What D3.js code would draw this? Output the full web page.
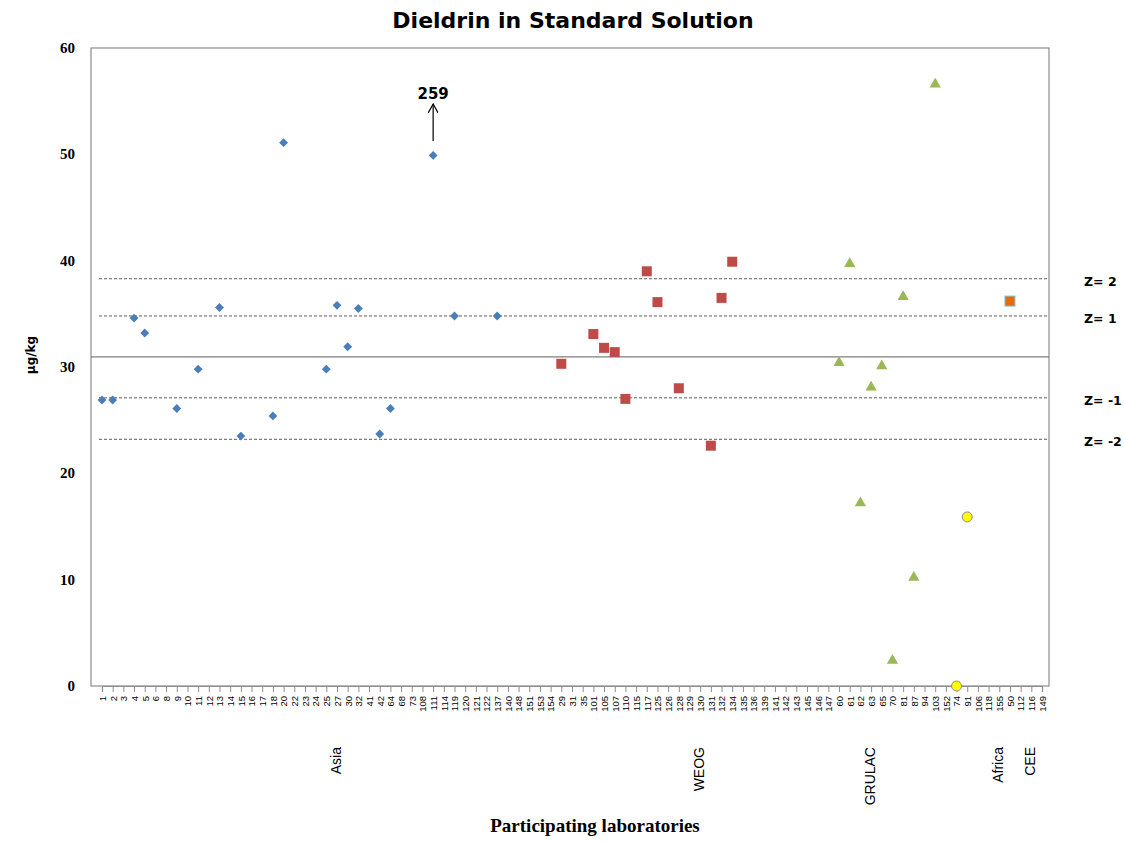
<!DOCTYPE html>
<html>
<head>
<meta charset="utf-8">
<script src="https://cdn.jsdelivr.net/npm/d3@7"></script>
<style>
  body { margin: 0; background: #fff; }
  svg { display: block; }
</style>
</head>
<body>
<svg id="chart" width="1124" height="841"></svg>
<script>
// lab codes along the x axis, grouped by region
const asiaLabs = ["1","2","3","4","5","6","8","9","10","11","12","13","14","15","16","17","18","20","22","23","24","25","27","30","32","41","42","64","68","73","108","111","114","119","120","121","122","137","140","148","151","153","154"];
const weogLabs = ["29","31","35","101","105","107","110","115","117","125","126","128","129","130","131","132","134","135","136","139","141","142","143","145","146","147"];
const grulacLabs = ["60","61","62","63","65","70","81","87","94","103","152"];
const africaLabs = ["74","91","106","118","155","50"];
const ceeLabs = ["112","116","149"];

const regions = ["Asia", "WEOG", "GRULAC", "Africa", "CEE"];

// reported results (µg/kg), [lab, value]
const asiaValues = [["1",26.9],["2",26.9],["4",34.6],["5",33.2],["9",26.1],["11",29.8],["13",35.6],["15",23.5],["18",25.4],["20",51.1],["25",29.8],["27",35.8],["30",31.9],["32",35.5],["42",23.7],["64",26.1],["111",49.9],["119",34.8],["137",34.8]];
const weogValues = [["29",30.3],["101",33.1],["105",31.8],["107",31.4],["110",27.0],["117",39.0],["125",36.1],["128",28.0],["131",22.6],["132",36.5],["134",39.9]];
const grulacValues = [["60",30.4],["61",39.7],["62",17.2],["63",28.1],["65",30.1],["70",2.4],["81",36.6],["87",10.2],["103",56.6]];
const africaValues = [["74",0],["91",15.9]];
const africaOther = [["50",36.2]];

// assigned value and z-score limits
const assigned = 30.95;
const zLines = [["Z= 2",38.3],["Z= 1",34.8],["Z= -1",27.1],["Z= -2",23.2]];
const yTicks = [0,10,20,30,40,50,60];

const svg = d3.select("#chart");
const plotL = 91, plotR = 1049, plotT = 48, plotB = 686;

const allLabs = [].concat(asiaLabs, weogLabs, grulacLabs, africaLabs, ceeLabs);

const x = d3.scalePoint().domain(allLabs).range([102, 1042]);
const y = d3.scaleLinear().domain([0, 60]).range([plotB, plotT]);

// title
svg.append("text")
  .attr("x", 573).attr("y", 28)
  .attr("text-anchor", "middle")
  .style("font-family", "DejaVu Sans")
  .style("font-weight", "bold")
  .style("font-size", "22px")
  .text("Dieldrin in Standard Solution");

// frame
svg.append("rect")
  .attr("x", plotL).attr("y", plotT)
  .attr("width", plotR - plotL).attr("height", plotB - plotT)
  .attr("fill", "none")
  .attr("stroke", "#8c8c8c")
  .attr("stroke-width", 1.2);

// y tick labels
svg.append("g").selectAll("text")
  .data(yTicks)
  .enter().append("text")
  .attr("x", 75).attr("y", d => y(d) + 5)
  .attr("text-anchor", "end")
  .style("font-family", "Liberation Serif")
  .style("font-weight", "bold")
  .style("font-size", "15px")
  .text(d => d);

// y axis title
svg.append("text")
  .attr("transform", "translate(35,355) rotate(-90)")
  .attr("text-anchor", "middle")
  .style("font-family", "DejaVu Sans")
  .style("font-weight", "bold")
  .style("font-size", "12px")
  .text("µg/kg");

// x axis ticks and labels
const xAxis = d3.axisBottom(x).tickSize(6).tickPadding(3);
const gx = svg.append("g")
  .attr("transform", `translate(0,${plotB})`)
  .call(xAxis);
gx.select(".domain").attr("stroke", "#8c8c8c").attr("stroke-width", 1.2);
gx.selectAll(".tick line").attr("stroke", "#8c8c8c");
gx.selectAll(".tick text")
  .attr("transform", "rotate(-90)")
  .attr("x", -10).attr("y", 0).attr("dy", "0.35em")
  .attr("text-anchor", "end")
  .style("font-family", "Liberation Sans")
  .style("font-size", "9.5px")
  .attr("fill", "#000");

// region names
const regionPos = [["Asia","27"],["WEOG","130"],["GRULAC","63"],["Africa","155"],["CEE","116"]];
svg.append("g").selectAll("text")
  .data(regionPos)
  .enter().append("text")
  .attr("transform", d => `translate(${x(d[1]) + 4},747) rotate(-90)`)
  .attr("text-anchor", "end")
  .style("font-family", "Liberation Sans")
  .style("font-size", "14px")
  .text(d => d[0]);

// x axis title
svg.append("text")
  .attr("x", 595).attr("y", 832)
  .attr("text-anchor", "middle")
  .style("font-family", "Liberation Serif")
  .style("font-weight", "bold")
  .style("font-size", "19px")
  .text("Participating laboratories");

// assigned value and z lines
svg.append("line")
  .attr("x1", plotL).attr("x2", plotR)
  .attr("y1", y(assigned)).attr("y2", y(assigned))
  .attr("stroke", "#7f7f7f").attr("stroke-width", 1.3);

svg.append("g").selectAll("line")
  .data(zLines)
  .enter().append("line")
  .attr("x1", plotL + 8).attr("x2", plotR)
  .attr("y1", d => y(d[1])).attr("y2", d => y(d[1]))
  .attr("stroke", "#333")
  .attr("stroke-width", 0.8)
  .attr("stroke-dasharray", "3,2");

svg.append("g").selectAll("text")
  .data(zLines)
  .enter().append("text")
  .attr("x", 1084).attr("y", d => y(d[1]) + 7)
  .style("font-family", "DejaVu Sans")
  .style("font-weight", "bold")
  .style("font-size", "12.5px")
  .text(d => d[0]);

// markers
const pts = svg.append("g");

pts.selectAll(".asia")
  .data(asiaValues)
  .enter().append("path")
  .attr("d", d3.symbol(d3.symbolDiamond2, 50))
  .attr("transform", d => `translate(${x(d[0])},${y(d[1])})`)
  .attr("fill", "#4a7ebb");

pts.selectAll(".weog")
  .data(weogValues)
  .enter().append("rect")
  .attr("x", d => x(d[0]) - 5).attr("y", d => y(d[1]) - 5)
  .attr("width", 10).attr("height", 10)
  .attr("fill", "#be4b48");

pts.selectAll(".grulac")
  .data(grulacValues)
  .enter().append("path")
  .attr("d", d3.symbol(d3.symbolTriangle, 55))
  .attr("transform", d => `translate(${x(d[0])},${y(d[1])})`)
  .attr("fill", "#98b954");

pts.selectAll(".africa")
  .data(africaValues)
  .enter().append("circle")
  .attr("cx", d => x(d[0])).attr("cy", d => y(d[1]))
  .attr("r", 5)
  .attr("fill", "#ffff00")
  .attr("stroke", "#8c8c8c")
  .attr("stroke-width", 1);

pts.selectAll(".africa2")
  .data(africaOther)
  .enter().append("rect")
  .attr("x", d => x(d[0]) - 5).attr("y", d => y(d[1]) - 5)
  .attr("width", 10).attr("height", 10)
  .attr("fill", "#e46c0a")
  .attr("stroke", "#7fc3d6")
  .attr("stroke-width", 1);

// off-scale result annotation for lab 111
const ax = x("111");
svg.append("defs").append("marker")
  .attr("id", "open")
  .attr("viewBox", "0 0 10 10")
  .attr("refX", 9).attr("refY", 5)
  .attr("markerWidth", 10).attr("markerHeight", 10)
  .attr("markerUnits", "userSpaceOnUse")
  .attr("orient", "auto")
  .append("path")
  .attr("d", "M0,0 L9,5 L0,10")
  .attr("fill", "none")
  .attr("stroke", "#000")
  .attr("stroke-width", 1.2);

svg.append("line")
  .attr("x1", ax).attr("x2", ax)
  .attr("y1", 141).attr("y2", 104)
  .attr("stroke", "#000").attr("stroke-width", 1.2)
  .attr("marker-end", "url(#open)");

svg.append("text")
  .attr("x", ax).attr("y", 99)
  .attr("text-anchor", "middle")
  .style("font-family", "DejaVu Sans")
  .style("font-weight", "bold")
  .style("font-size", "15px")
  .text("259");
</script>
</body>
</html>
